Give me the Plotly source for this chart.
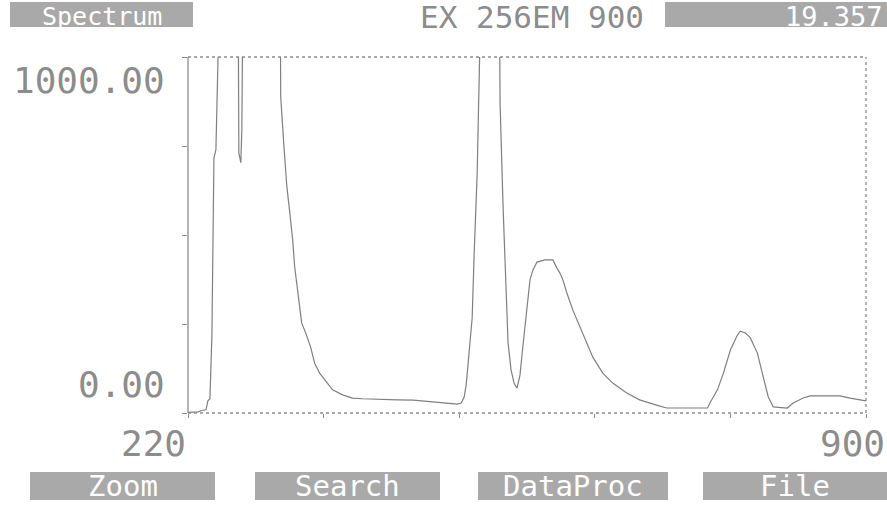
import plotly.graph_objects as go

# Emission spectrum (EX 256 nm), intensity readings per wavelength
wavelength = [220, 230, 234, 238, 240, 242, 244, 246, 248, 250, 260, 270, 271, 273, 274, 276,
              290, 312, 313, 316, 319, 322, 325, 327, 331, 334, 338, 343, 347, 352, 359, 365,
              375, 385, 395, 410, 430, 446, 466, 480, 490, 494, 497, 499, 501, 505, 507, 510,
              511, 513, 520, 532, 533, 536, 539, 541, 544, 547, 550, 553, 556, 560, 563, 566,
              570, 578, 586, 590, 593, 596, 600, 606, 613, 620, 626, 636, 646, 660, 673, 690,
              700, 741, 744, 751, 757, 764, 771, 774, 779, 784, 791, 797, 802, 807, 821, 827,
              837, 844, 874, 884, 900]
intensity = [2, 3, 7, 9, 34, 40, 220, 716, 740, 1600, 2200, 1400, 730, 703, 800, 1500,
             2500, 1400, 888, 758, 640, 565, 486, 410, 326, 253, 225, 185, 140, 112, 87, 65,
             51, 42, 40, 38, 37, 36, 31, 27, 25, 28, 45, 79, 143, 267, 447, 671,
             803, 1300, 2000, 1300, 871, 579, 354, 197, 121, 84, 70, 107, 191, 303, 374, 402,
             424, 430, 430, 407, 393, 374, 337, 289, 242, 197, 157, 112, 84, 56, 37, 22,
             14, 14, 31, 65, 112, 177, 219, 230, 225, 211, 169, 101, 45, 17, 14, 28,
             42, 48, 48, 42, 34]

x_range = [220, 900]
y_range = [0, 1000]
x_ticks = [220, 356, 492, 628, 764, 900]
y_ticks = [0, 250, 500, 750, 1000]
y_labels = ["0.00", "1000.00"]
x_labels = ["220", "900"]
title_left = "Spectrum"
title_mid = "EX 256EM 900"
title_right = "19.357"
menu_items = ["Zoom", "Search", "DataProc", "File"]

FONT = "DejaVu Sans Mono"
INK = "#8c8c8c"
LINE = "#7f7f7f"
BOX = "#a9a9a9"

W, H = 887, 521
ML, MR, MT, MB = 188, 21, 57, 108

fig = go.Figure()
fig.add_trace(go.Scatter(x=wavelength, y=intensity, mode="lines",
                         line=dict(color=LINE, width=1.2), hoverinfo="skip",
                         showlegend=False))

# plot frame: solid left edge, dotted remaining sides
frame = [
    dict(x0=0, x1=0, y0=0, y1=1, dash="solid"),
    dict(x0=0, x1=1, y0=0, y1=0, dash="dot"),
    dict(x0=0, x1=1, y0=1, y1=1, dash="dot"),
    dict(x0=1, x1=1, y0=0, y1=1, dash="dot"),
]
shapes = []
for f in frame:
    shapes.append(dict(type="line", xref="paper", yref="paper",
                       x0=f["x0"], x1=f["x1"], y0=f["y0"], y1=f["y1"],
                       line=dict(color=INK, width=1.3, dash=f["dash"])))


def px_x(p):
    return (p - ML) / (W - ML - MR)


def px_y(p):
    return (H - MB - p) / (H - MT - MB)


annotations = []


def label_box(text, x0, x1, y0, y1, size, align="center", ty=None):
    shapes.append(dict(type="rect", xref="paper", yref="paper",
                       x0=px_x(x0), x1=px_x(x1), y0=px_y(y1), y1=px_y(y0),
                       fillcolor=BOX, line=dict(width=0), layer="above"))
    if align == "right":
        ax, anchor = px_x(x1 - 2), "right"
    else:
        ax, anchor = px_x((x0 + x1) / 2), "center"
    cy = (y0 + y1) / 2 if ty is None else ty
    annotations.append(dict(text=text, xref="paper", yref="paper", x=ax,
                            y=px_y(cy), xanchor=anchor, yanchor="middle",
                            showarrow=False,
                            font=dict(family=FONT, size=size, color="white")))


# header
label_box(title_left, 10, 193, 2, 27, 25, ty=16)
annotations.append(dict(text=title_mid, xref="paper", yref="paper", x=px_x(418),
                        y=px_y(17), xanchor="left", yanchor="middle", showarrow=False,
                        font=dict(family=FONT, size=31, color=INK)))
label_box(title_right, 665, 887, 2, 27, 27, align="right", ty=16)

# axis end labels
annotations.append(dict(text=y_labels[1], xref="paper", yref="y", x=px_x(167),
                        y=y_range[1], xanchor="right", yanchor="top", yshift=-1,
                        showarrow=False, font=dict(family=FONT, size=36, color=INK)))
annotations.append(dict(text=y_labels[0], xref="paper", yref="y", x=px_x(167),
                        y=y_range[0], xanchor="right", yanchor="bottom", yshift=6,
                        showarrow=False, font=dict(family=FONT, size=36, color=INK)))
annotations.append(dict(text=x_labels[0], xref="x", yref="paper", x=x_range[0],
                        y=0, xanchor="right", yanchor="top", yshift=-8, xshift=0,
                        showarrow=False, font=dict(family=FONT, size=36, color=INK)))
annotations.append(dict(text=x_labels[1], xref="paper", yref="paper", x=px_x(887),
                        y=0, xanchor="right", yanchor="top", yshift=-8,
                        showarrow=False, font=dict(family=FONT, size=36, color=INK)))

# soft-key menu
menu_spans = [(30, 215), (255, 440), (478, 668), (703, 887)]
for item, (a, b) in zip(menu_items, menu_spans):
    label_box(item, a, b, 472, 500, 29)

fig.update_layout(
    width=W, height=H,
    margin=dict(l=ML, r=MR, t=MT, b=MB, pad=0),
    paper_bgcolor="white", plot_bgcolor="white",
    shapes=shapes, annotations=annotations,
    xaxis=dict(range=x_range, tickvals=x_ticks, ticks="outside", ticklen=4,
               tickcolor=INK, showticklabels=False, showgrid=False, zeroline=False,
               showline=False, fixedrange=True),
    yaxis=dict(range=y_range, tickvals=y_ticks, ticks="outside", ticklen=5,
               tickcolor=INK, showticklabels=False, showgrid=False, zeroline=False,
               showline=False, fixedrange=True),
)

fig.write_html("out.html", config={"displayModeBar": False})
